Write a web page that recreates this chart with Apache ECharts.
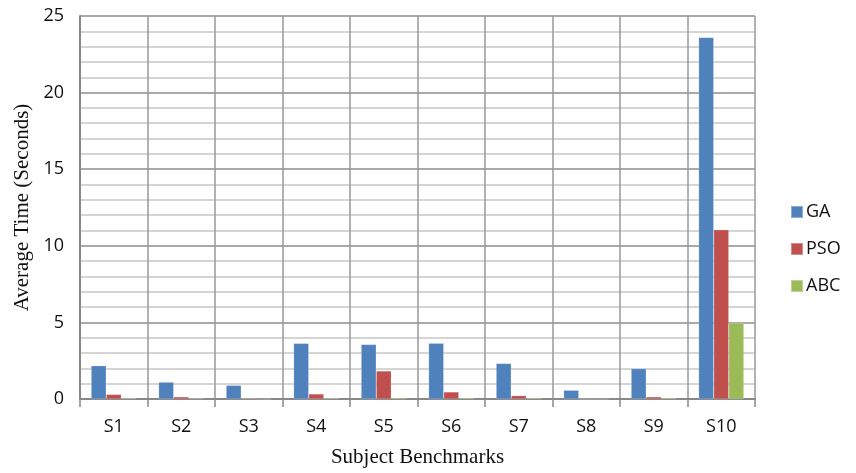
<!DOCTYPE html>
<html><head><meta charset="utf-8">
<script src="https://cdn.jsdelivr.net/npm/echarts@6/dist/echarts.min.js"></script>
<style>html,body{margin:0;padding:0;background:#fff}#c{width:856px;height:473px}</style>
</head><body><div id="c"></div>
<script>
const categories = ['S1','S2','S3','S4','S5','S6','S7','S8','S9','S10'];
const gaValues  = [2.17, 1.10, 0.89, 3.63, 3.56, 3.64, 2.32, 0.57, 1.98, 23.6];
const psoValues = [0.30, 0.14, 0.04, 0.33, 1.83, 0.46, 0.22, 0.0, 0.14, 11.05];
const abcValues = [0.05, 0.04, 0.0, 0.07, 0.07, 0.07, 0.06, 0.0, 0.07, 4.96];
const seriesNames = ['GA','PSO','ABC'];
const colors = ['#4F81BD','#C0504D','#9BBB59'];
const yTicks = {min:0, max:25, interval:5};

const chart = echarts.init(document.getElementById('c'), null, {renderer:'canvas'});
const tickFont = {fontFamily:'Open Sans', fontSize:18, color:'#111'};
chart.setOption({
  animation:false,
  color: colors,
  grid:{left:80, right:101, top:16, bottom:67, containLabel:false},
  legend:{
    orient:'vertical', left:785, top:198, itemWidth:12, itemHeight:12, itemGap:19,
    icon:'rect', textStyle:{fontFamily:'Open Sans', fontSize:18, color:'#111', padding:[0,0,0,-2]},
    data: seriesNames
  },
  xAxis:{
    type:'category', data:categories, boundaryGap:true,
    name:'Subject Benchmarks', nameLocation:'middle', nameGap:48,
    nameTextStyle:{fontFamily:'Liberation Serif', fontSize:21, color:'#111'},
    axisLine:{show:true, lineStyle:{color:'#888', width:2}},
    axisTick:{show:true, length:8, alignWithLabel:false, lineStyle:{color:'#888', width:1.5}},
    axisLabel:{...tickFont, margin:19},
    splitLine:{show:true, interval:0, lineStyle:{color:'#999', width:1.5}}
  },
  yAxis:{
    type:'value', min:yTicks.min, max:yTicks.max, interval:yTicks.interval,
    name:'Average Time (Seconds)', nameLocation:'middle', nameGap:46, nameRotate:90,
    nameTextStyle:{fontFamily:'Liberation Serif', fontSize:21, color:'#111'},
    axisLine:{show:true, lineStyle:{color:'#888', width:2}},
    axisTick:{show:false},
    axisLabel:{...tickFont, margin:16},
    splitLine:{show:true, lineStyle:{color:'#8c8c8c', width:1.5}},
    minorTick:{show:false, splitNumber:5},
    minorSplitLine:{show:true, lineStyle:{color:'#c8c8c8', width:1.5}}
  },
  series: [gaValues, psoValues, abcValues].map((d,i)=>({
    name: seriesNames[i], type:'bar', data:d,
    barGap:'0%', barCategoryGap:'33%',
    itemStyle:{color:colors[i], borderColor:'rgba(255,255,255,0.35)', borderWidth:0.5}
  }))
});
</script></body></html>
